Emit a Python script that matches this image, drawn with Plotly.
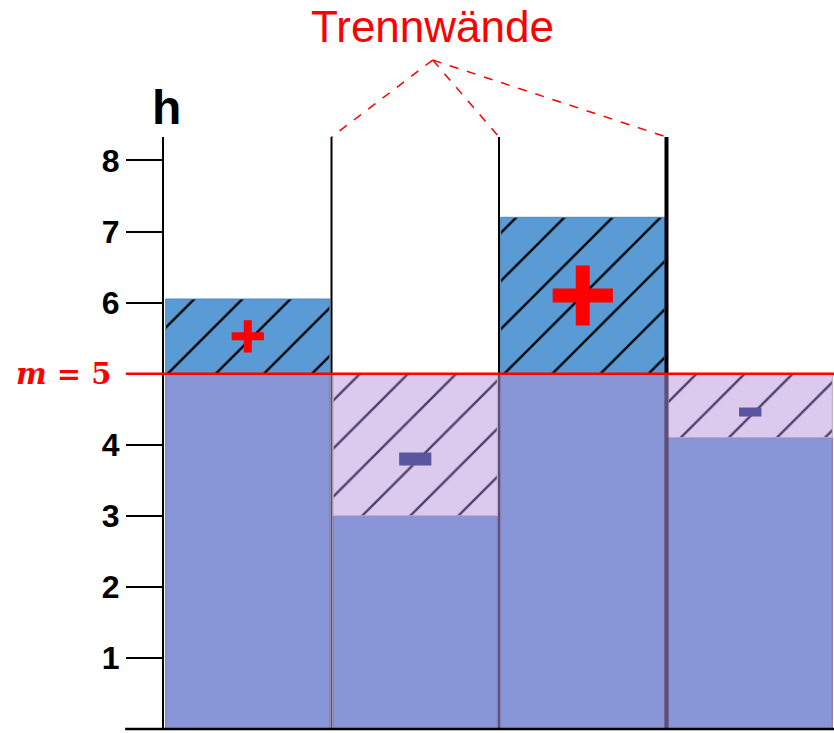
import plotly.graph_objects as go

# ---- data ----
columns = [0.5, 1.5, 2.5, 3.5]           # centres of the four containers
heights = [6.05, 3.0, 7.2, 4.1]         # water level h in each container
mean_level = 5                          # m = 5
walls = [1, 2, 3]                       # partition walls (Trennwände) between containers
y_ticks = [1, 2, 3, 4, 5, 6, 7, 8]
y_tick_labels = ["1", "2", "3", "4", "", "6", "7", "8"]
Y_MAX = 8.33
X_MAX = 4

base_part = [min(h, mean_level) for h in heights]
excess = [max(h - mean_level, 0) for h in heights]
deficit = [max(mean_level - h, 0) for h in heights]
deficit_base = [min(h, mean_level) for h in heights]

BASE_COL = "#8896d8"
EXCESS_COL = "#5b9bd5"
DEFICIT_COL = "#dccaee"
MINUS_COL = "#5a55a0"

fig = go.Figure()

fig.add_trace(go.Bar(
    x=columns, y=base_part, base=0, width=0.98,
    marker=dict(color=BASE_COL, line=dict(color="#7a72b0", width=1)),
    hoverinfo="skip", showlegend=False))

fig.add_trace(go.Bar(
    x=columns, y=excess, base=mean_level, width=0.98,
    marker=dict(color=EXCESS_COL, line=dict(color="#4a86c0", width=1),
                pattern=dict(shape="/", fgcolor="black", fgopacity=1, size=34, solidity=0.07)),
    hoverinfo="skip", showlegend=False))

fig.add_trace(go.Bar(
    x=columns, y=deficit, base=deficit_base, width=0.98,
    marker=dict(color=DEFICIT_COL, line=dict(color="#b9a6d0", width=1),
                pattern=dict(shape="/", fgcolor="#4e3f6a", fgopacity=1, size=34, solidity=0.07)),
    hoverinfo="skip", showlegend=False))

# plus / minus signs inside each excess / deficit region
plus_x = [c for c, e in zip(columns, excess) if e > 0]
plus_y = [mean_level + e / 2 for e in excess if e > 0]
plus_sizes = [23, 43]
plus_widths = [8, 14]
for x, y, s, w in zip(plus_x, plus_y, plus_sizes, plus_widths):
    fig.add_trace(go.Scatter(
        x=[x], y=[y], mode="markers",
        marker=dict(symbol="cross-thin", size=s, color="red", line=dict(color="red", width=w)),
        hoverinfo="skip", showlegend=False))

minus_x = [c for c, d in zip(columns, deficit) if d > 0]
minus_y = [mean_level - d * 0.6 for d in deficit if d > 0]
minus_sizes = [23, 16]
minus_widths = [13, 9]
for x, y, s, w in zip(minus_x, minus_y, minus_sizes, minus_widths):
    fig.add_trace(go.Scatter(
        x=[x], y=[y], mode="markers",
        marker=dict(symbol="line-ew", size=s, color=MINUS_COL, line=dict(color=MINUS_COL, width=w)),
        hoverinfo="skip", showlegend=False))

shapes = []
# partition walls: black above the mean line, dark purple below
for i, wx in enumerate(walls):
    lw = 4 if i == len(walls) - 1 else 2
    shapes.append(dict(type="line", xref="x", yref="y", x0=wx, x1=wx, y0=mean_level, y1=Y_MAX,
                       line=dict(color="black", width=lw), layer="above"))
    shapes.append(dict(type="line", xref="x", yref="y", x0=wx, x1=wx, y0=0, y1=mean_level,
                       line=dict(color="#5e4f78", width=lw), layer="above"))

# mean line m = 5
shapes.append(dict(type="line", xref="paper", yref="y", x0=-0.057, x1=1, y0=mean_level, y1=mean_level,
                   line=dict(color="#ff0000", width=2.5), layer="above"))

# bottom axis line
shapes.append(dict(type="line", xref="paper", yref="paper", x0=-0.058, x1=1, y0=0, y1=0,
                   line=dict(color="black", width=2.5), layer="above"))

# dashed pointers from label to wall tops
anchor_x, anchor_y = 0.401, 1.130
for wx in walls:
    shapes.append(dict(type="line", xref="paper", yref="paper", x0=anchor_x, y0=anchor_y,
                       x1=wx / X_MAX, y1=1.0, line=dict(color="#ff0000", width=1.5, dash="dash")))

fig.update_layout(
    width=834, height=733,
    margin=dict(l=164, r=0, t=137, b=4),
    paper_bgcolor="white", plot_bgcolor="white",
    barmode="overlay",
    shapes=shapes,
    xaxis=dict(range=[0, X_MAX], visible=False, fixedrange=True),
    yaxis=dict(range=[0, Y_MAX], showgrid=False, zeroline=False,
               showline=True, linecolor="black", linewidth=2,
               ticks="outside", ticklen=36, tickwidth=2, tickcolor="black",
               tickvals=y_ticks, ticktext=y_tick_labels,
               tickfont=dict(family="Liberation Sans", size=32, color="black", weight="bold")),
    annotations=[
        dict(text="Trennwände", xref="paper", yref="paper", x=0.401, y=1.186,
             xanchor="center", yanchor="middle",
             showarrow=False, font=dict(family="Liberation Sans", size=44, color="#ff0000")),
        dict(text="<b>h</b>", xref="paper", yref="paper", x=0.003, y=1.049,
             xanchor="center", yanchor="middle",
             showarrow=False, font=dict(family="Liberation Sans", size=48, color="black")),
        dict(text="<b><i>m</i>&nbsp;=&nbsp;5</b>", xref="paper", yref="y", x=-0.076, y=mean_level,
             xanchor="right", yanchor="middle", showarrow=False,
             font=dict(family="DejaVu Serif", size=29, color="#ff0000")),
    ],
)

fig.write_html("out.html", config={"displayModeBar": False},
               post_script="document.body.style.margin='0';document.body.style.overflow='hidden';")
